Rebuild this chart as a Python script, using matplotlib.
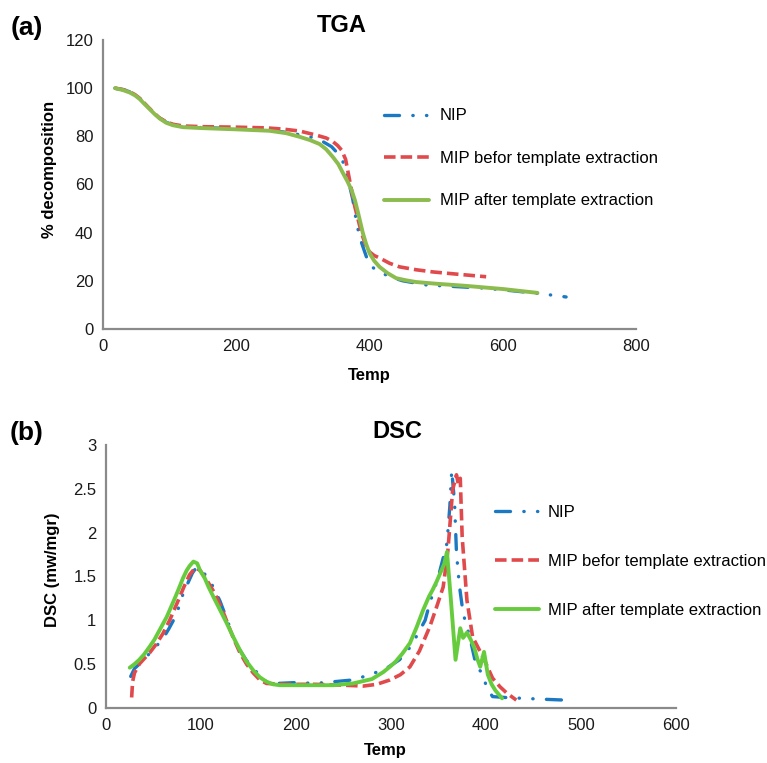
import matplotlib
matplotlib.use('Agg')
import matplotlib.pyplot as plt

plt.rcParams['font.family'] = ['Liberation Sans', 'DejaVu Sans']

# TGA data (temp, % decomposition)
tga_nip_t = [18, 30, 40, 48, 55, 62, 70, 78, 85, 95, 105, 120, 150, 200, 250, 280, 306, 315, 330, 343, 352,
             360, 368, 375, 380, 385, 390, 398, 405, 415, 430, 450, 485, 530, 570, 610, 645, 670, 695]
tga_nip_v = [100, 99.4, 98.5, 97.3, 95.8, 93.8, 91.5, 89.3, 87.6, 85.8, 84.8, 84, 83.6, 83.2, 82.5, 81.5, 80, 79.5,
             77.8, 75.7, 73, 69.5, 62, 53.6, 45, 38.3, 34.2, 27.8, 25.5, 23.8, 21.7, 20, 18.3, 17.6, 17, 16, 15,
             14.2, 13.3]

tga_bef_t = [18, 30, 40, 48, 55, 62, 70, 78, 85, 95, 105, 120, 150, 200, 245, 270, 295, 320, 335, 345, 352,
             358, 364, 370, 378, 388, 394, 400, 407, 415, 430, 445, 470, 495, 530, 575]
tga_bef_v = [100, 99.4, 98.5, 97.3, 95.8, 93.8, 91.5, 89.3, 87.6, 86, 85, 84.3, 84, 83.8, 83.5, 83, 82.2, 80.5,
             79.3, 77.8, 76.2, 74.3, 70.5, 61.9, 50.7, 39.8, 35, 32, 30.5, 29.5, 27.3, 25.8, 24.6, 23.7, 22.8,
             21.7]

tga_aft_t = [18, 30, 40, 48, 55, 62, 70, 78, 85, 95, 105, 120, 150, 200, 250, 275, 295, 310, 325, 335, 345,
             353, 360, 367, 373, 378, 383, 390, 395, 400, 407, 415, 427, 440, 455, 470, 500, 545, 600, 652]
tga_aft_v = [100, 99.2, 98.2, 97, 95.5, 93.5, 91.3, 89.1, 87.4, 85.6, 84.6, 83.8, 83.4, 82.9, 82.3, 81.3, 79.8,
             78.5, 76.8, 74.6, 71.4, 68.5, 64.8, 61.2, 57.7, 53.5, 48, 39.8, 35.2, 31.5, 28.3, 25.8, 23.2, 21.1,
             20.2, 19.5, 18.8, 17.9, 16.6, 15]

# DSC data (temp, mw/mgr)
dsc_nip_t = [26, 30, 36, 43, 52, 61, 66, 71, 76, 80, 86, 91, 95, 100, 106, 113, 120, 127, 134, 141, 148, 155,
             162, 169, 180, 200, 220, 240, 260, 278, 295, 309, 318, 325, 336, 341, 350, 359, 362, 364, 367, 369,
             372, 376, 383, 390, 396, 401, 407, 420, 439, 460, 483]
dsc_nip_v = [0.36, 0.45, 0.51, 0.59, 0.69, 0.81, 0.9, 1.0, 1.13, 1.27, 1.42, 1.54, 1.6, 1.58, 1.5, 1.38, 1.22,
             1.02, 0.81, 0.66, 0.54, 0.46, 0.36, 0.3, 0.28, 0.29, 0.28, 0.3, 0.32, 0.38, 0.45, 0.55, 0.66, 0.78,
             1.0, 1.2, 1.5, 1.88, 2.3, 2.71, 2.34, 1.77, 1.4, 1.08, 0.81, 0.47, 0.4, 0.23, 0.13, 0.12, 0.11, 0.1,
             0.09]

dsc_bef_t = [27, 28, 30, 35, 40, 46, 53, 60, 67, 75, 82, 88, 94, 99, 106, 115, 125, 134, 141, 148, 155, 162,
             169, 190, 220, 250, 271, 285, 299, 310, 320, 330, 341, 348, 355, 360, 365, 369, 371, 373, 375, 380,
             386, 397, 407, 415, 422, 432]
dsc_bef_v = [0.12, 0.3, 0.4, 0.5, 0.56, 0.63, 0.73, 0.85, 1.0, 1.2, 1.38, 1.52, 1.6, 1.57, 1.46, 1.3, 1.05, 0.8,
             0.63, 0.5, 0.4, 0.32, 0.28, 0.27, 0.27, 0.26, 0.25, 0.27, 0.32, 0.38, 0.47, 0.65, 0.93, 1.15, 1.38,
             1.8, 2.49, 2.66, 2.55, 2.62, 1.95, 1.23, 0.81, 0.58, 0.34, 0.24, 0.17, 0.09]

dsc_aft_t = [25, 30, 35, 40, 46, 51, 55, 60, 64, 68, 72, 77, 81, 85, 88, 92, 96, 99, 104, 108, 113, 120, 127,
             134, 141, 148, 155, 162, 169, 176, 183, 200, 220, 239, 260, 280, 292, 300, 305, 312, 320, 327, 334,
             340, 344, 348, 352, 356, 359, 363, 368, 373, 376, 380, 384, 388, 391, 394, 398, 402, 406, 410, 417]
dsc_aft_v = [0.46, 0.5, 0.55, 0.61, 0.7, 0.78, 0.86, 0.96, 1.04, 1.14, 1.24, 1.37, 1.48, 1.57, 1.62, 1.67, 1.65,
             1.57, 1.48, 1.38, 1.27, 1.12, 0.97, 0.81, 0.66, 0.53, 0.43, 0.35, 0.3, 0.27, 0.26, 0.26, 0.26, 0.26,
             0.28, 0.33, 0.41, 0.48, 0.53, 0.62, 0.74, 0.92, 1.12, 1.27, 1.35, 1.44, 1.54, 1.64, 1.78, 1.25, 0.55,
             0.91, 0.8, 0.86, 0.78, 0.68, 0.56, 0.47, 0.64, 0.38, 0.27, 0.2, 0.11]

labels = ['NIP', 'MIP befor template extraction', 'MIP after template extraction']
blue = '#1b78c2'
red = '#e04a4c'
green_tga = '#8cbb4e'
green_dsc = '#66cc3e'
spine_c = '#8a8a8a'


def style_axes(ax):
    for s in ['top', 'right']:
        ax.spines[s].set_visible(False)
    for s in ['left', 'bottom']:
        ax.spines[s].set_color(spine_c)
        ax.spines[s].set_linewidth(1.6)
    ax.tick_params(length=0, labelsize=12, colors='#1a1a1a', pad=7)


def draw(ax, data, green):
    (t1, v1), (t2, v2), (t3, v3) = data
    ax.plot(t1, v1, color=blue, lw=2.4, dashes=[4.5, 4, 0.1, 4, 0.1, 4],
            dash_capstyle='round', dash_joinstyle='round', label=labels[0])
    ax.plot(t2, v2, color=red, lw=2.6, dashes=[3.2, 1.4], dash_joinstyle='round', label=labels[1])
    ax.plot(t3, v3, color=green, lw=2.8, solid_capstyle='round', solid_joinstyle='round', label=labels[2])


fig = plt.figure(figsize=(7.67, 7.63), dpi=100)

ax1 = fig.add_axes([0.1343, 0.5688, 0.695, 0.3788])
draw(ax1, [(tga_nip_t, tga_nip_v), (tga_bef_t, tga_bef_v), (tga_aft_t, tga_aft_v)], green_tga)
ax1.set_xlim(0, 800)
ax1.set_ylim(0, 120)
ax1.set_xticks([0, 200, 400, 600, 800])
ax1.set_yticks([0, 20, 40, 60, 80, 100, 120])
style_axes(ax1)
ax1.legend(loc='center left', bbox_to_anchor=(384 / 767, 1 - 158.5 / 763), bbox_transform=fig.transFigure,
           frameon=False, fontsize=12, handlelength=2.7, handletextpad=0.65, labelspacing=1.65,
           borderpad=0, borderaxespad=0)

ax2 = fig.add_axes([0.1382, 0.0721, 0.743, 0.3447])
draw(ax2, [(dsc_nip_t, dsc_nip_v), (dsc_bef_t, dsc_bef_v), (dsc_aft_t, dsc_aft_v)], green_dsc)
ax2.set_xlim(0, 600)
ax2.set_ylim(0, 3)
ax2.set_xticks([0, 100, 200, 300, 400, 500, 600])
ax2.set_yticks([0, 0.5, 1, 1.5, 2, 2.5, 3])
ax2.set_yticklabels(['0', '0.5', '1', '1.5', '2', '2.5', '3'])
style_axes(ax2)
ax2.legend(loc='center left', bbox_to_anchor=(495 / 767, 1 - 561.5 / 763), bbox_transform=fig.transFigure,
           frameon=False, fontsize=12, handlelength=2.65, handletextpad=0.5, labelspacing=2.05,
           borderpad=0, borderaxespad=0)

# titles, panel letters and axis labels
fig.text(27 / 767, 1 - 28 / 763, '(a)', fontsize=19, fontweight='bold', ha='center', va='center')
fig.text(342 / 767, 1 - 25 / 763, 'TGA', fontsize=17, fontweight='bold', ha='center', va='center')
fig.text(27 / 767, 1 - 433 / 763, '(b)', fontsize=19, fontweight='bold', ha='center', va='center')
fig.text(397 / 767, 1 - 432 / 763, 'DSC', fontsize=17, fontweight='bold', ha='center', va='center')

fig.text(369 / 767, 1 - 375 / 763, 'Temp', fontsize=12, fontweight='bold', ha='center', va='center')
fig.text(385 / 767, 1 - 751 / 763, 'Temp', fontsize=12, fontweight='bold', ha='center', va='center')
fig.text(50 / 767, 1 - 169 / 763, '% decomposition', fontsize=12, fontweight='bold',
         rotation=90, ha='center', va='center')
fig.text(53 / 767, 1 - 570 / 763, 'DSC (mw/mgr)', fontsize=12, fontweight='bold',
         rotation=90, ha='center', va='center')

fig.savefig('out.png', dpi=100)
